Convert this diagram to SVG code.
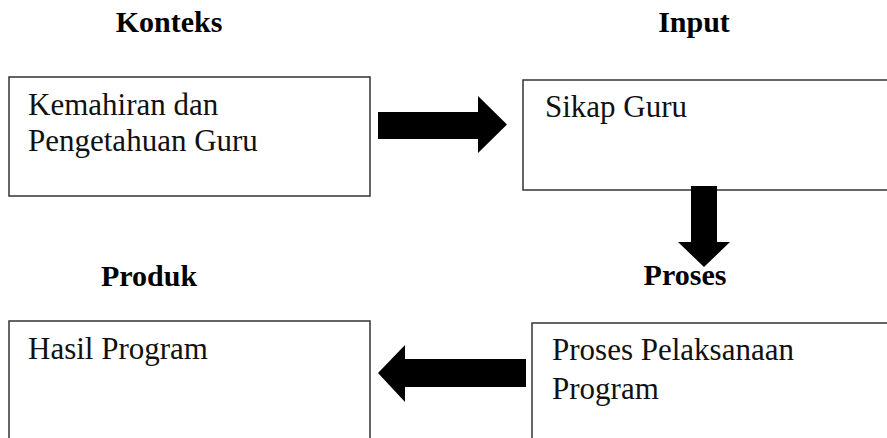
<svg xmlns="http://www.w3.org/2000/svg" width="887" height="438" viewBox="0 0 887 438">
<style>
.box{fill:#fff;stroke:#333;stroke-width:1.5}
.h{font-family:"Liberation Serif","Times New Roman",serif;font-weight:bold;font-size:30px;fill:#000;text-anchor:middle}
.t{font-family:"Liberation Serif","Times New Roman",serif;font-size:31px;fill:#111}
.arr{fill:#000}
</style>
<rect width="887" height="438" fill="#fff"/>
<g id="label-konteks"><text class="h" x="169" y="32">Konteks</text></g>
<g id="label-input"><text class="h" x="694" y="32">Input</text></g>
<g id="label-produk"><text class="h" x="149" y="286">Produk</text></g>
<g id="label-proses"><text class="h" x="685" y="285">Proses</text></g>
<g id="node-konteks">
<rect class="box" x="9" y="77" width="361" height="119"/>
<text class="t" x="28" y="115">Kemahiran dan</text>
<text class="t" x="28" y="151">Pengetahuan Guru</text>
</g>
<g id="node-input">
<rect class="box" x="523" y="80" width="380" height="110"/>
<text class="t" x="545" y="117">Sikap Guru</text>
</g>
<g id="node-produk">
<rect class="box" x="9" y="321" width="361" height="130"/>
<text class="t" x="28" y="359">Hasil Program</text>
</g>
<g id="node-proses">
<rect class="box" x="532" y="323" width="370" height="130"/>
<text class="t" x="552" y="360">Proses Pelaksanaan</text>
<text class="t" x="552" y="399">Program</text>
</g>
<g id="connectors">
<polygon class="arr" points="378,112 478,112 478,96 507,124.5 478,153 478,139 378,139"/>
<polygon class="arr" points="691,186 717,186 717,242 730,242 704,267 678,242 691,242"/>
<polygon class="arr" points="526,359 405,359 405,345 378,373 405,402 405,387 526,387"/>
</g>
</svg>
